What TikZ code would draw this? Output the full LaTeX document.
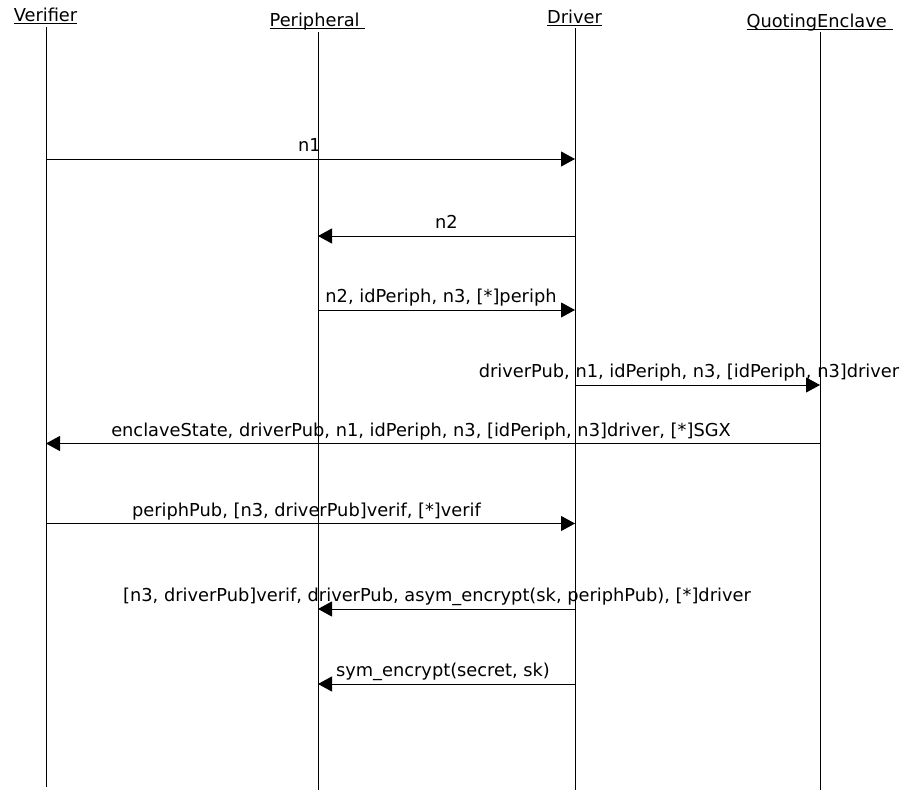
\documentclass[tikz,border=0pt]{standalone}
\usepackage{fontspec}
\setmainfont{DejaVu Sans}
\usetikzlibrary{arrows.meta}
\newcommand\hdrul[1]{\setbox0\hbox{#1}\rlap{\rule[-2.4bp]{\wd0}{0.9bp}}\box0}
\begin{document}
\begin{tikzpicture}[x=1bp,y=-1bp,
  every node/.style={font=\fontsize{17.8bp}{21bp}\selectfont, inner sep=0pt, outer sep=0pt},
  hdr/.style={anchor=base},
  life/.style={line width=1bp, black},
  msg/.style={line width=1bp, black, -{Triangle[length=14bp,width=15bp]}},
  lbl/.style={anchor=base, pos=0.5, yshift=7.5bp}]
\useasboundingbox (0,0) rectangle (903,791);
% headers
\node[hdr] (hV) at (45.5,21.5) {\hdrul{Verifier}};
\node[hdr] (hP) at (317.5,26.5) {\hdrul{Peripheral\ }};
\node[hdr] (hD) at (574.5,24) {\hdrul{Driver}};
\node[hdr] (hQ) at (819.5,27.5) {\hdrul{QuotingEnclave\ }};
% lifelines
\coordinate (vT) at (46,27);   \coordinate (vB) at (46,787);
\coordinate (pT) at (318,32);  \coordinate (pB) at (318,790);
\coordinate (dT) at (575,28);  \coordinate (dB) at (575,790);
\coordinate (qT) at (820,32);  \coordinate (qB) at (820,790);
\draw[life] (vT) -- (vB);
\draw[life] (pT) -- (pB);
\draw[life] (dT) -- (dB);
\draw[life] (qT) -- (qB);
% message endpoints
\coordinate (v1) at (46,159);  \coordinate (d1) at (575,159);
\coordinate (d2) at (575,236); \coordinate (p2) at (318,236);
\coordinate (p3) at (318,310); \coordinate (d3) at (575,310);
\coordinate (d4) at (575,385); \coordinate (q4) at (820,385);
\coordinate (q5) at (820,443.5); \coordinate (v5) at (46,443.5);
\coordinate (v6) at (46,523.5);  \coordinate (d6) at (575,523.5);
\coordinate (d7) at (575,609); \coordinate (p7) at (318,609);
\coordinate (d8) at (575,684); \coordinate (p8) at (318,684);
% messages
\draw[msg] (v1) -- (d1) node[lbl, xshift=-1bp] (m1) {n1};
\draw[msg] (d2) -- (p2) node[lbl] (m2) {n2};
\draw[msg] (p3) -- (d3) node[lbl, xshift=-5.5bp] (m3) {n2, idPeriph, n3, [*]periph};
\draw[msg] (d4) -- (q4) node[lbl, xshift=-8.5bp] (m4) {driverPub, n1, idPeriph, n3, [idPeriph, n3]driver};
\draw[msg] (q5) -- (v5) node[lbl, xshift=-12bp] (m5) {enclaveState, driverPub, n1, idPeriph, n3, [idPeriph, n3]driver, [*]SGX};
\draw[msg] (v6) -- (d6) node[lbl, xshift=-4bp] (m6) {periphPub, [n3, driverPub]verif, [*]verif};
\draw[msg] (d7) -- (p7) node[lbl, xshift=-9.5bp] (m7) {[n3, driverPub]verif, driverPub, asym\_encrypt(sk, periphPub), [*]driver};
\draw[msg] (d8) -- (p8) node[lbl, xshift=-3.5bp] (m8) {sym\_encrypt(secret, sk)};
\end{tikzpicture}
\end{document}
